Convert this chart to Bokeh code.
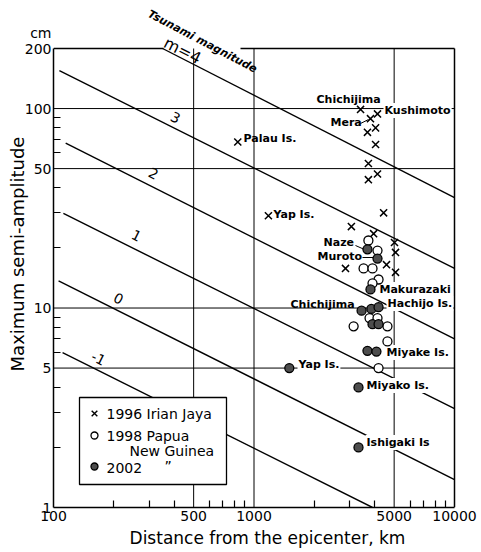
import math
from bokeh.plotting import figure
from bokeh.models import FixedTicker, Label, PrintfTickFormatter, Range1d
from bokeh.core.properties import value
from bokeh.embed import file_html
from bokeh.resources import INLINE

# ---------------- data ----------------
# 1996 Irian Jaya (x markers): distance from epicenter (km), max semi-amplitude (cm)
irian_dist = [3400, 4130, 3810, 4040, 3680, 4040, 3720, 3720, 4130, 830, 1180,
              4430, 3060, 3950, 5020, 5080, 2860, 4580, 5080]
irian_amp = [99, 94, 89, 80, 76, 66, 53, 44, 47, 68, 29,
             30, 25.6, 23.6, 21.3, 19.0, 15.8, 16.5, 15.1]

# 1998 Papua New Guinea (open circles)
png98_dist = [3720, 4130, 3520, 3900, 4180, 3900, 3770, 4130, 3140, 4630, 4630, 4180]
png98_amp = [21.8, 19.4, 15.8, 15.8, 13.9, 13.3, 8.9, 8.9, 8.1, 8.1, 6.8, 5.0]

# 2002 Papua New Guinea (filled circles)
png02_dist = [3680, 4130, 3810, 3440, 3850, 4180, 3900, 4180, 3680, 4080, 1500, 3320, 3320]
png02_amp = [19.7, 17.7, 12.4, 9.7, 9.9, 10.1, 8.3, 8.3, 6.1, 6.05, 5.0, 4.0, 2.0]

# Tsunami magnitude reference lines (end points)
m_values = ["m=4", "3", "2", "1", "0", "-1"]
line_start_dist = [350, 107, 115, 112, 106, 111]
line_start_amp = [200, 155, 67, 29.8, 13.7, 5.98]
line_end_dist = [10000, 10000, 10000, 10000, 10000, 3900]
line_end_amp = [35.8, 15.8, 7.0, 3.13, 1.38, 1.0]

# axes
x_lim = [100, 10000]
y_lim = [1, 200]
x_major = [100, 500, 1000, 5000, 10000]
x_minor = [200, 300, 400, 600, 700, 800, 900, 2000, 3000, 4000, 6000, 7000, 8000, 9000]
y_major = [1, 5, 10, 50, 100, 200]
y_minor = [2, 3, 4, 6, 7, 8, 9, 20, 30, 40, 60, 70, 80, 90]
x_grid = [500, 1000, 5000]
y_grid = [5, 10, 50, 100]

# station labels
labels_bg = ["Kushimoto", "Makurazaki", "Hachijo Is.", "Miyake Is.", "Yap Is.",
             "Miyako Is.", "Ishigaki Is"]
labels_plain = ["Chichijima", "Mera", "Palau Is.", "Yap Is.", "Naze", "Muroto", "Chichijima"]

legend_texts = ["1996 Irian Jaya", "1998 Papua", "New Guinea", "2002", "\u201d"]

# ---------------- layout helpers (canvas pixel -> data) ----------------
FL, FR, FT, FB = 53, 454, 48, 507
W, H = 481, 552


def X(px):
    return 10 ** (2 + 2 * (px - FL) / (FR - FL))


def Y(py):
    return 10 ** (math.log10(200) * (FB - py) / (FB - FT))


FONT = "DejaVu Sans"

# the frame reaches the top and right edges of the canvas so that the texts above
# the chart box stay inside the drawable area; top/right box edges are drawn below
p = figure(width=W, height=H, x_axis_type="log", y_axis_type="log",
           x_range=Range1d(100, X(W)), y_range=Range1d(1, Y(0)),
           output_backend="svg", toolbar_location=None,
           min_border_left=FL, min_border_right=0, min_border_top=0,
           min_border_bottom=H - FB)
p.background_fill_color = "white"
p.border_fill_color = "white"
p.outline_line_color = None
p.xgrid.visible = False
p.ygrid.visible = False

p.xaxis.ticker = FixedTicker(ticks=x_major, minor_ticks=x_minor)
p.yaxis.ticker = FixedTicker(ticks=y_major, minor_ticks=y_minor)
p.xaxis.formatter = PrintfTickFormatter(format="%d")
p.yaxis.formatter = PrintfTickFormatter(format="%d")
p.xaxis.bounds = (x_lim[0], x_lim[1])
p.yaxis.bounds = (y_lim[0], y_lim[1])
for ax in (p.xaxis[0], p.yaxis[0]):
    ax.axis_line_color = "black"
    ax.axis_line_width = 1.5
    ax.major_tick_in = 0
    ax.major_tick_out = 0
    ax.minor_tick_in = 7
    ax.minor_tick_out = 0
    ax.minor_tick_line_color = "black"
    ax.minor_tick_line_width = 1.2
    ax.major_label_text_font = FONT
    ax.major_label_text_font_size = "14px"
    ax.major_label_text_color = "black"
    ax.axis_label_text_font = FONT
    ax.axis_label_text_font_style = "normal"
    ax.axis_label_text_color = "black"
p.yaxis.major_label_overrides = {200: "cm\n200\n "}
p.yaxis.major_label_text_line_height = 0.95
p.xaxis.major_label_standoff = 3
p.yaxis.major_label_standoff = 2
p.yaxis.axis_label = "Maximum semi-amplitude"
p.yaxis.axis_label_text_font_size = "18px"
p.yaxis.axis_label_standoff = -6
p.xaxis.axis_label = "Distance from the epicenter, km"
p.xaxis.axis_label_text_font_size = "17px"
p.xaxis.axis_label_standoff = 4

# grid lines and top/right edges of the chart box
p.segment(x0=x_grid, y0=[y_lim[0]] * len(x_grid), x1=x_grid, y1=[y_lim[1]] * len(x_grid),
          line_color="black", line_width=1)
p.segment(x0=[x_lim[0]] * len(y_grid), y0=y_grid, x1=[x_lim[1]] * len(y_grid), y1=y_grid,
          line_color="black", line_width=1)
p.segment(x0=[x_lim[0], X(240), x_lim[1]], y0=[y_lim[1], y_lim[1], y_lim[0]],
          x1=[X(163), x_lim[1], x_lim[1]], y1=[y_lim[1], y_lim[1], y_lim[1]],
          line_color="black", line_width=1.5)

# magnitude lines
p.segment(x0=line_start_dist, y0=line_start_amp, x1=line_end_dist, y1=line_end_amp,
          line_color="black", line_width=1.4)

# leader lines for some station names
p.segment(x0=[X(360), X(355), X(362)], y0=[Y(123), Y(245), Y(257)],
          x1=[X(368), X(364), X(373)], y1=[Y(119), Y(249), Y(257)],
          line_color="black", line_width=1)

# station labels with white background (break lines behind them)
bg_pos = [(383, 110), (378, 289), (386, 303), (385, 352), (297, 364), (365, 385), (365, 442)]
p.text(x=[X(a) for a, b in bg_pos], y=[Y(b) for a, b in bg_pos], text=labels_bg,
       text_font=value(FONT), text_font_size="11px", text_font_style="bold",
       text_align="left", text_baseline="middle", text_color="black",
       background_fill_color="white", padding=1)
plain_pos = [(316, 99), (330, 122), (243, 138), (273, 214), (323, 242), (317, 256), (290, 304)]
p.text(x=[X(a) for a, b in plain_pos], y=[Y(b) for a, b in plain_pos], text=labels_plain,
       text_font=value(FONT), text_font_size="11px", text_font_style="bold",
       text_align="left", text_baseline="middle", text_color="black")

# legend box
p.quad(left=[X(79)], right=[X(226)], top=[Y(397)], bottom=[Y(484)],
       fill_color="white", line_color="black", line_width=1.3)

# data markers
p.scatter(irian_dist, irian_amp, marker="x", size=10, line_color="black", line_width=1.5)
p.scatter(png98_dist, png98_amp, marker="circle", size=9, fill_color="white",
          line_color="black", line_width=1.3)
p.scatter(png02_dist, png02_amp, marker="circle", size=9, fill_color="#4d4d4d",
          line_color="black", line_width=1.3)

# legend content
p.scatter([X(94)], [Y(413)], marker="x", size=8, line_color="black", line_width=1.4)
p.scatter([X(94)], [Y(435)], marker="circle", size=7, fill_color="white",
          line_color="black", line_width=1.3)
p.scatter([X(94)], [Y(466)], marker="circle", size=7, fill_color="#4d4d4d",
          line_color="black", line_width=1.3)
leg_pos = [(106, 413), (106, 435), (129, 450), (106, 467), (164, 465)]
p.text(x=[X(a) for a, b in leg_pos], y=[Y(b) for a, b in leg_pos], text=legend_texts,
       text_font=value(FONT), text_font_size="14px", text_align="left",
       text_baseline="middle", text_color="black")

# magnitude line labels
ang = -math.atan(0.51)
mag_pos = [(182, 50, "16px"), (175, 117, "14px"), (153, 173, "14px"),
           (136, 235, "14px"), (118, 298, "14px"), (98, 358, "14px")]
for txt, (a, b, fs) in zip(m_values, mag_pos):
    p.add_layout(Label(x=X(a), y=Y(b), text=txt, angle=ang, text_align="center",
                       text_baseline="middle", text_font=FONT, text_font_size=fs,
                       text_color="black"))
p.add_layout(Label(x=X(202), y=Y(41), text="Tsunami magnitude", angle=-0.485,
                   text_align="center", text_baseline="middle", text_font=FONT,
                   text_font_size="11px", text_font_style="bold italic", text_color="black"))

open("out.html", "w").write(file_html(p, INLINE))
